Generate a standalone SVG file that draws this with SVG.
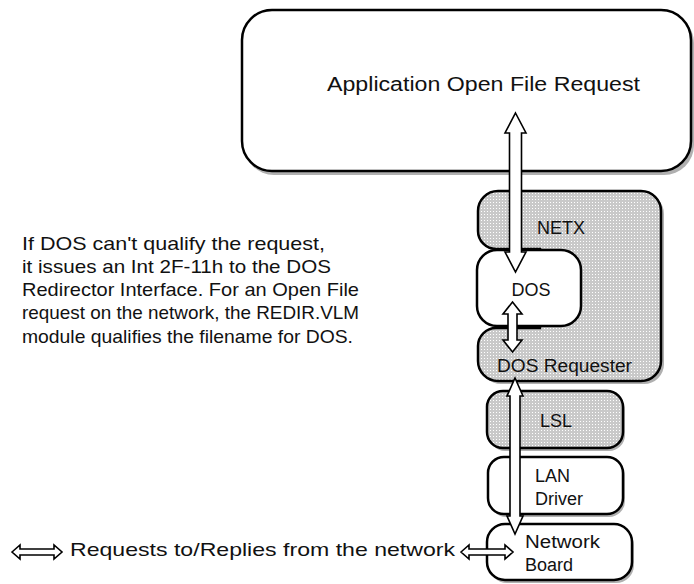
<svg xmlns="http://www.w3.org/2000/svg" width="694" height="584" viewBox="0 0 694 584">
<defs>
<pattern id="dots" width="3" height="3" patternUnits="userSpaceOnUse">
<rect width="3" height="3" fill="#c9c9c9"/>
<rect x="1" y="1" width="1" height="1" fill="#ffffff"/>
</pattern>
<style>
.box{stroke:#000;stroke-width:2.5;fill:#fff}
.gray{fill:url(#dots)}
.shadow{fill:#b0b0b0;stroke:none}
.arrow{fill:#fff;stroke:#000;stroke-width:1.6;stroke-linejoin:miter}
text{font-family:"Liberation Sans",Arial,sans-serif;fill:#111}
.lbl{font-size:18px}
.big{font-size:20px}
.para{font-size:19px}
</style>
</defs>
<rect width="694" height="584" fill="#fff"/>

<g id="app">
<rect class="shadow" x="244" y="13" width="450" height="162" rx="30"/>
<rect class="box" x="242" y="10" width="449" height="161" rx="30"/>
<text class="big" x="327" y="91" textLength="313" lengthAdjust="spacingAndGlyphs">Application Open File Request</text>
</g>

<g id="netx">
<path class="shadow" transform="translate(3,3)" d="M498,191 H641 A20,20 0 0 1 661,211 V361 A20,20 0 0 1 641,381 H498 A20,20 0 0 1 478,361 V346 A18,18 0 0 1 496,328 H540 V249 H496 A18,18 0 0 1 478,231 V211 A20,20 0 0 1 498,191 Z"/>
<path class="box gray" d="M498,191 H641 A20,20 0 0 1 661,211 V361 A20,20 0 0 1 641,381 H498 A20,20 0 0 1 478,361 V346 A18,18 0 0 1 496,328 H540 V249 H496 A18,18 0 0 1 478,231 V211 A20,20 0 0 1 498,191 Z"/>
<text class="lbl" x="537" y="234" textLength="48" lengthAdjust="spacingAndGlyphs">NETX</text>
<text class="lbl" x="497" y="372" textLength="135" lengthAdjust="spacingAndGlyphs">DOS Requester</text>
</g>

<g id="dos">
<rect class="box" x="477" y="250" width="104" height="76" rx="20"/>
<text class="lbl" x="531" y="296" text-anchor="middle">DOS</text>
</g>

<g id="lsl">
<rect class="shadow" x="489" y="394" width="136" height="57" rx="16"/>
<rect class="box gray" x="487" y="391" width="136" height="57" rx="16"/>
<text class="lbl" x="556" y="427" text-anchor="middle" font-size="17">LSL</text>
</g>

<g id="lan">
<rect class="shadow" x="490" y="460" width="135" height="57" rx="16"/>
<rect class="box" x="488" y="457" width="135" height="57" rx="16"/>
<text class="lbl" x="535" y="482" font-size="19">LAN</text>
<text class="lbl" x="535" y="505" font-size="19">Driver</text>
</g>

<g id="board">
<rect class="shadow" x="489" y="527" width="145" height="56" rx="18"/>
<rect class="box" x="487" y="524" width="145" height="56" rx="18"/>
<text class="lbl" x="525" y="548" font-size="19" textLength="75" lengthAdjust="spacingAndGlyphs">Network</text>
<text class="lbl" x="525" y="571" font-size="19">Board</text>
</g>

<g id="note">
<text class="para" x="22" y="250" textLength="303" lengthAdjust="spacingAndGlyphs">If DOS can't qualify the request,</text>
<text class="para" x="22" y="273" textLength="309" lengthAdjust="spacingAndGlyphs">it issues an Int 2F-11h to the DOS</text>
<text class="para" x="22" y="296" textLength="337" lengthAdjust="spacingAndGlyphs">Redirector Interface. For an Open File</text>
<text class="para" x="22" y="319" textLength="337" lengthAdjust="spacingAndGlyphs">request on the network, the REDIR.VLM</text>
<text class="para" x="22" y="343" textLength="331" lengthAdjust="spacingAndGlyphs">module qualifies the filename for DOS.</text>
</g>

<g id="legend">
<polygon class="arrow" points="12,552 20,545 20,549 54,549 54,545 62,552 54,559 54,555 20,555 20,559"/>
<text class="para" x="70" y="556" textLength="385" lengthAdjust="spacingAndGlyphs">Requests to/Replies from the network</text>
</g>

<g id="connectors">
<polygon class="arrow" points="515.5,113 526,133 521.5,133 521.5,252 526,252 515.5,272 505,252 509.5,252 509.5,133 505,133"/>
<polygon class="arrow" points="512.5,302 522,314 517,314 517,340 522,340 512.5,352 503,340 508,340 508,314 503,314"/>
<polygon class="arrow" points="515,378 523,396 520,396 520,516 523,516 515,534 507,516 510,516 510,396 507,396"/>
<polygon class="arrow" points="461,552 469,545 469,549 505,549 505,545 513,552 505,559 505,555 469,555 469,559"/>
</g>
</svg>
